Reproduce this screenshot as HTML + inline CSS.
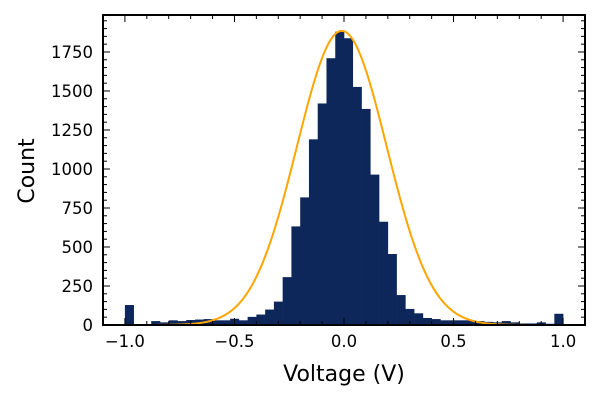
<!DOCTYPE html>
<html><head><meta charset="utf-8"><style>
body{margin:0;background:#fff}
svg text{font-family:"DejaVu Sans","Liberation Sans",sans-serif;fill:#000}
</style></head><body>
<svg id="chart" width="600" height="400" xmlns="http://www.w3.org/2000/svg"></svg>
<script>
const binStart = -1.0;
const binWidth = 0.04;
const counts = [128,0,0,25,17,30,25,32,35,38,30,30,40,30,52,67,99,150,307,632,818,1190,1420,1710,1880,1838,1526,1385,964,662,455,192,103,75,45,38,30,30,30,30,25,20,17,25,17,10,10,17,8,72];
const fitAmp = 1885;
const fitMu = -0.01;
const fitSigma = 0.205;
const xTicks = [-1.0,-0.5,0.0,0.5,1.0];
const xTickLabels = ["\u22121.0","\u22120.5","0.0","0.5","1.0"];
const yTicks = [0,250,500,750,1000,1250,1500,1750];

const L=103,R=585,T=15,B=325;
const xMin=-1.1,xMax=1.1,yMin=0,yMax=1987;
const sx=v=>L+(v-xMin)/(xMax-xMin)*(R-L);
const sy=v=>B-(v-yMin)/(yMax-yMin)*(B-T);
const svg=document.getElementById('chart');
const NS='http://www.w3.org/2000/svg';
function mk(tag,attrs,parent){const e=document.createElementNS(NS,tag);for(const k in attrs)e.setAttribute(k,attrs[k]);(parent||svg).appendChild(e);return e;}

const bars=mk('g',{});


counts.forEach((c,i)=>{
  if(c<=0)return;
  const x0=sx(binStart+i*binWidth),x1=sx(binStart+(i+1)*binWidth);
  const r=mk('rect',{x:x0,y:sy(c),width:x1-x0+0.3,height:sy(0)-sy(c),fill:'#0e275b'},bars);
  
  
});

let d='';
for(let k=0;k<=400;k++){const v=-1.0+2.0*k/400;const y=fitAmp*Math.exp(-0.5*((v-fitMu)/fitSigma)**2);d+=(k?'L':'M')+sx(v).toFixed(2)+','+sy(y).toFixed(2);}
const fit=mk('path',{d:d,fill:'none',stroke:'#ffa500','stroke-width':2});



const ax=mk('g',{stroke:'#000','stroke-width':1});


for(let v=-1.1;v<=1.1001;v+=0.1){const x=sx(v);const major=xTicks.some(t=>Math.abs(t-v)<1e-6);const len=major?7:4;
  mk('line',{x1:x,x2:x,y1:B,y2:B-len},ax);mk('line',{x1:x,x2:x,y1:T,y2:T+len},ax);}
for(let v=0;v<=yMax;v+=50){const y=sy(v);const major=v%250===0;const len=major?7:4;
  mk('line',{x1:L,x2:L+len,y1:y,y2:y},ax);mk('line',{x1:R,x2:R-len,y1:y,y2:y},ax);}

xTicks.forEach((v,i)=>{const t=mk('text',{x:sx(v),y:B+22,'text-anchor':'middle','font-size':16.5});t.textContent=xTickLabels[i];
  });
yTicks.forEach(v=>{const t=mk('text',{x:L-10,y:sy(v)+6,'text-anchor':'end','font-size':16.5});t.textContent=String(v);
  });

const frame=mk('rect',{x:L,y:T,width:R-L,height:B-T,fill:'none',stroke:'#000','stroke-width':2});



const xt=mk('text',{x:344,y:381,'text-anchor':'middle','font-size':22});xt.textContent='Voltage (V)';

const yt=mk('text',{x:34,y:171,'text-anchor':'middle','font-size':22,transform:'rotate(-90 34 171)'});yt.textContent='Count';

</script>
</body></html>
